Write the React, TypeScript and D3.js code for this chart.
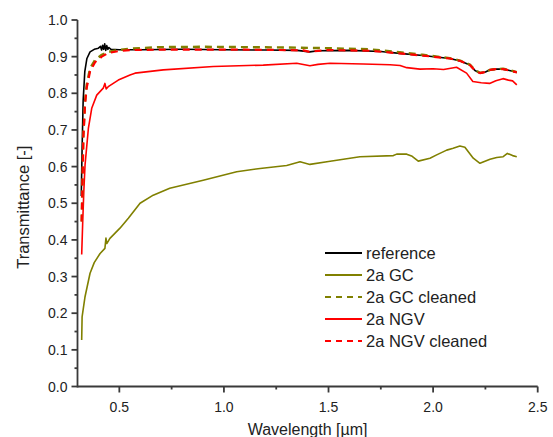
import React from "react";
import * as d3 from "d3";

// ---------- data ----------
const refWl = [0.318, 0.322, 0.327, 0.335, 0.345, 0.36, 0.38, 0.40, 0.41, 0.415, 0.42, 0.425, 0.43, 0.435, 0.44, 0.445, 0.45, 0.46, 0.5, 0.6, 0.8, 1.0, 1.2, 1.35, 1.41, 1.45, 1.6, 1.75, 1.84, 1.95, 2.08, 2.13, 2.176, 2.2, 2.224, 2.25, 2.272, 2.3, 2.334, 2.36, 2.38, 2.4];
const refT = [0.52, 0.65, 0.78, 0.86, 0.895, 0.913, 0.92, 0.923, 0.928, 0.918, 0.931, 0.92, 0.935, 0.917, 0.93, 0.92, 0.925, 0.92, 0.919, 0.919, 0.92, 0.919, 0.918, 0.917, 0.913, 0.916, 0.917, 0.914, 0.909, 0.903, 0.895, 0.888, 0.877, 0.862, 0.855, 0.858, 0.864, 0.866, 0.866, 0.863, 0.86, 0.857];

const gcWl = [0.32, 0.322, 0.336, 0.36, 0.38, 0.408, 0.431, 0.436, 0.44, 0.455, 0.503, 0.543, 0.599, 0.662, 0.741, 0.901, 1.061, 1.173, 1.3, 1.364, 1.411, 1.5, 1.65, 1.81, 1.826, 1.874, 1.9, 1.929, 1.985, 2.017, 2.065, 2.096, 2.128, 2.152, 2.192, 2.224, 2.272, 2.304, 2.335, 2.355, 2.38, 2.4];
const gcT = [0.127, 0.19, 0.245, 0.309, 0.338, 0.363, 0.377, 0.405, 0.39, 0.404, 0.432, 0.459, 0.5, 0.522, 0.541, 0.563, 0.586, 0.595, 0.603, 0.613, 0.606, 0.614, 0.627, 0.63, 0.634, 0.634, 0.628, 0.615, 0.623, 0.632, 0.645, 0.65, 0.656, 0.653, 0.623, 0.609, 0.62, 0.625, 0.627, 0.636, 0.63, 0.627];

const gcCleanWl = [0.32, 0.328, 0.336, 0.344, 0.36, 0.384, 0.416, 0.447, 0.495, 0.55, 0.7, 0.9, 1.1, 1.3, 1.5, 1.7, 1.84, 1.95, 2.08, 2.13, 2.176, 2.2, 2.224, 2.25, 2.272, 2.3, 2.334, 2.36, 2.38, 2.4];
const gcCleanT = [0.45, 0.686, 0.777, 0.823, 0.868, 0.891, 0.905, 0.913, 0.918, 0.922, 0.926, 0.927, 0.926, 0.925, 0.923, 0.92, 0.912, 0.905, 0.896, 0.889, 0.878, 0.864, 0.856, 0.858, 0.864, 0.866, 0.867, 0.864, 0.861, 0.858];

const ngvWl = [0.32, 0.325, 0.33, 0.336, 0.352, 0.368, 0.392, 0.423, 0.431, 0.437, 0.447, 0.495, 0.551, 0.575, 0.71, 0.949, 1.188, 1.348, 1.411, 1.45, 1.507, 1.666, 1.794, 1.842, 1.874, 1.937, 2.0, 2.05, 2.112, 2.16, 2.19, 2.23, 2.27, 2.3, 2.334, 2.36, 2.38, 2.4];
const ngvT = [0.36, 0.45, 0.53, 0.604, 0.704, 0.759, 0.795, 0.814, 0.827, 0.812, 0.818, 0.836, 0.85, 0.855, 0.864, 0.873, 0.877, 0.882, 0.875, 0.879, 0.882, 0.88, 0.878, 0.876, 0.87, 0.866, 0.867, 0.865, 0.871, 0.855, 0.832, 0.829, 0.827, 0.834, 0.84, 0.836, 0.834, 0.823];

const ngvCleanWl = [0.32, 0.328, 0.336, 0.344, 0.36, 0.384, 0.416, 0.447, 0.495, 0.55, 0.7, 0.9, 1.1, 1.3, 1.38, 1.41, 1.45, 1.5, 1.7, 1.84, 1.95, 2.08, 2.13, 2.176, 2.2, 2.224, 2.25, 2.272, 2.3, 2.334, 2.36, 2.38, 2.4];
const ngvCleanT = [0.45, 0.68, 0.77, 0.815, 0.86, 0.885, 0.9, 0.91, 0.915, 0.918, 0.919, 0.919, 0.919, 0.918, 0.917, 0.913, 0.916, 0.918, 0.916, 0.909, 0.903, 0.895, 0.888, 0.877, 0.862, 0.855, 0.858, 0.864, 0.866, 0.866, 0.863, 0.86, 0.857];

const seriesNames = ["reference", "2a GC", "2a GC cleaned", "2a NGV", "2a NGV cleaned"];
const xTickLabels = ["0.5", "1.0", "1.5", "2.0", "2.5"];
const yTickLabels = ["0.0", "0.1", "0.2", "0.3", "0.4", "0.5", "0.6", "0.7", "0.8", "0.9", "1.0"];

const W = 553;
const H = 437;
const FONT = "Liberation Sans, Arial, sans-serif";

export default function App() {
  const x = d3.scaleLinear().domain([0.3, 2.5]).range([77.5, 537.7]);
  const y = d3.scaleLinear().domain([0, 1]).range([386.5, 20]);

  const line = d3
    .line<[number, number]>()
    .x((d) => x(d[0]))
    .y((d) => y(d[1]));

  const mk = (wl: number[], t: number[]) => line(wl.map((w, i) => [w, t[i]] as [number, number])) || "";

  const series = [
    { name: seriesNames[1], d: mk(gcWl, gcT), color: "#808000", dash: undefined, w: 1.6 },
    { name: seriesNames[3], d: mk(ngvWl, ngvT), color: "#ff0000", dash: undefined, w: 1.6 },
    { name: seriesNames[0], d: mk(refWl, refT), color: "#000000", dash: undefined, w: 1.6 },
    { name: seriesNames[2], d: mk(gcCleanWl, gcCleanT), color: "#808000", dash: "7,5", w: 2.4 },
    { name: seriesNames[4], d: mk(ngvCleanWl, ngvCleanT), color: "#ff0000", dash: "7,5", w: 2.2 },
  ];

  const legend = [
    { name: seriesNames[0], color: "#000000", dash: undefined },
    { name: seriesNames[1], color: "#808000", dash: undefined },
    { name: seriesNames[2], color: "#808000", dash: "6,5" },
    { name: seriesNames[3], color: "#ff0000", dash: undefined },
    { name: seriesNames[4], color: "#ff0000", dash: "6,5" },
  ];

  const xMajor = xTickLabels.map((s) => +s);
  const xMinor = d3.range(0.75, 2.5, 0.5);
  const yMajor = yTickLabels.map((s) => +s);
  const yMinor = d3.range(0.05, 1.0, 0.1);

  const [x0, x1] = x.range();
  const [y0, y1] = y.range();
  const axisColor = "#3a3a3a";

  return (
    <svg width={W} height={H} style={{ position: "absolute", left: 0, top: 0 }} fontFamily={FONT}>
      <rect width={W} height={H} fill="#fff" />
      {/* curves */}
      <g fill="none" strokeLinejoin="round" strokeLinecap="butt">
        {series.map((s) => (
          <path key={s.name} d={s.d} stroke={s.color} strokeWidth={s.w} strokeDasharray={s.dash} />
        ))}
      </g>
      {/* axes */}
      <g stroke={axisColor} strokeWidth={1.8}>
        <line x1={x0} x2={x0} y1={y0 + 0.9} y2={y1} />
        {yMajor.map((v) => (
          <line key={"ym" + v} x1={x0 - 6} x2={x0} y1={y(v)} y2={y(v)} />
        ))}
        {yMinor.map((v) => (
          <line key={"yn" + v} x1={x0 - 3} x2={x0} y1={y(v)} y2={y(v)} />
        ))}
        <line x1={x0} x2={x1} y1={y0} y2={y0} />
        {xMajor.map((v) => (
          <line key={"xm" + v} x1={x(v)} x2={x(v)} y1={y0} y2={y0 + 6} />
        ))}
        {xMinor.map((v) => (
          <line key={"xn" + v} x1={x(v)} x2={x(v)} y1={y0} y2={y0 + 3} />
        ))}
      </g>
      <g fontSize={14} fill="#222">
        {yTickLabels.map((s) => (
          <text key={"yl" + s} x={x0 - 10} y={y(+s)} dy="0.36em" textAnchor="end">
            {s}
          </text>
        ))}
        {xTickLabels.map((s) => (
          <text key={"xl" + s} x={x(+s)} y={412} textAnchor="middle">
            {s}
          </text>
        ))}
      </g>
      <text x={(x0 + x1) / 2} y={435} fontSize={16} textAnchor="middle" fill="#222">
        Wavelength [µm]
      </text>
      <text
        transform={`translate(29, ${(y0 + y1) / 2 + 4}) rotate(-90)`}
        fontSize={16.5}
        textAnchor="middle"
        fill="#222"
      >
        Transmittance [-]
      </text>
      {/* legend */}
      <g fontSize={16.5} fill="#222">
        {legend.map((l, i) => {
          const ly = 253 + i * 22;
          return (
            <g key={l.name}>
              <line x1={325} x2={362} y1={ly} y2={ly} stroke={l.color} strokeWidth={2} strokeDasharray={l.dash} />
              <text x={366} y={ly} dy="0.36em">
                {l.name}
              </text>
            </g>
          );
        })}
      </g>
    </svg>
  );
}
